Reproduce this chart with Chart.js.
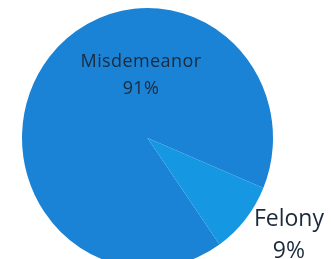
<!DOCTYPE html>
<html>
<head>
<meta charset="utf-8">
<script src="https://cdn.jsdelivr.net/npm/chart.js@4/dist/chart.umd.min.js"></script>
<style>
    html, body { margin: 0; padding: 0; background: #ffffff; overflow: hidden; }
    #wrap { width: 334px; height: 259px; position: relative; }
</style>
</head>
<body>
<div id="wrap"><canvas id="myChart"></canvas></div>
<script>
const categories = ['Misdemeanor', 'Felony'];
const percentValues = [91, 9];
const sliceColors = ['#1a83d6', '#1597e2'];

// where each label sits, as a fraction of the radius from the pie centre
const labelSpots = [
    { fx: -0.052, fy: -0.502, size: 18, gap: 27, spacing: 0.4 },
    { fx: 1.127, fy: 0.773, size: 23, gap: 32, spacing: 0 }
];

// the scanned pie is a touch taller than wide
const stretchY = 1.036;

const pieLabels = {
    id: 'pieLabels',
    beforeDatasetsDraw(chart) {
        const ctx = chart.ctx;
        const top = chart.chartArea.top;
        ctx.save();
        ctx.translate(0, top);
        ctx.scale(1, stretchY);
        ctx.translate(0, -top);
    },
    afterDatasetsDraw(chart) {
        const ctx = chart.ctx;
        ctx.restore();
        const top = chart.chartArea.top;
        const arcs = chart.getDatasetMeta(0).data;
        ctx.save();
        ctx.fillStyle = '#1d2a3c';
        ctx.textAlign = 'center';
        ctx.textBaseline = 'middle';
        arcs.forEach((arc, i) => {
            const spot = labelSpots[i];
            const cy = top + (arc.y - top) * stretchY;
            const x = arc.x + arc.outerRadius * spot.fx;
            const y = cy + arc.outerRadius * spot.fy;
            ctx.font = spot.size + 'px "Open Sans"';
            ctx.letterSpacing = spot.spacing + 'px';
            ctx.fillText(categories[i], x, y - spot.gap / 2);
            ctx.fillText(percentValues[i] + '%', x, y + spot.gap / 2);
        });
        ctx.restore();
    }
};

new Chart(document.getElementById('myChart'), {
    type: 'pie',
    data: {
        labels: categories,
        datasets: [{
            data: percentValues,
            backgroundColor: sliceColors,
            borderWidth: 0
        }]
    },
    options: {
        responsive: true,
        maintainAspectRatio: false,
        animation: false,
        rotation: 145,
        layout: { padding: { left: 22, right: 61, top: 8, bottom: 0 } },
        plugins: {
            legend: { display: false },
            tooltip: { enabled: false }
        }
    },
    plugins: [pieLabels]
});
</script>
</body>
</html>
